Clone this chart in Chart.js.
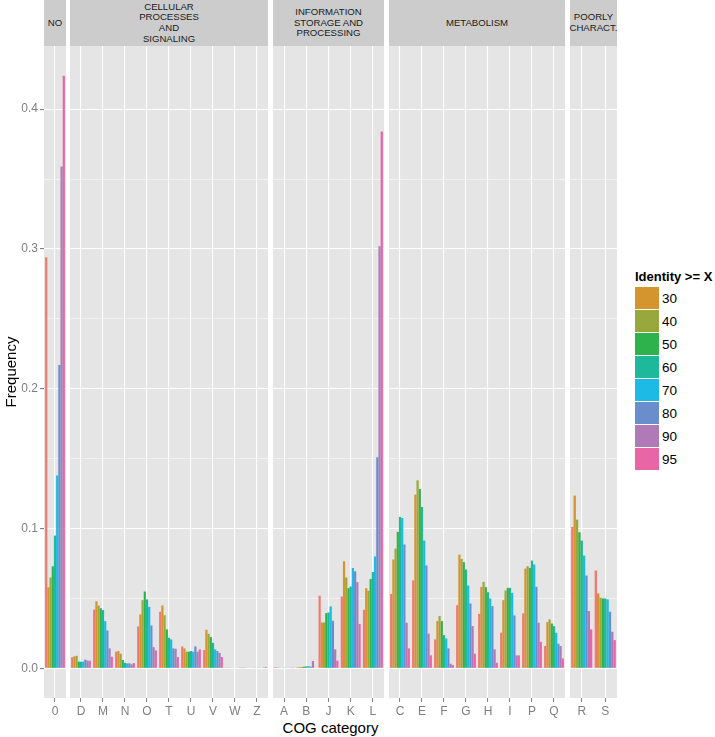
<!DOCTYPE html>
<html>
<head>
<meta charset="utf-8">
<script src="https://cdn.jsdelivr.net/npm/chart.js@4.4.1/dist/chart.umd.min.js"></script>
<style>
  body { margin: 0; background: #fff; font-family: 'Liberation Sans', Arial, sans-serif; }
  #wrap { position: relative; width: 715px; height: 737px; overflow: hidden; }
  canvas { position: absolute; top: 46px; }
  .strip { position: absolute; top: 0; height: 46px; background: #cccccc; color: #1a1a1a;
           font-size: 9.6px; line-height: 10.6px; display: flex; align-items: center;
           justify-content: center; text-align: center; white-space: pre-line; }
  #xtitle { position: absolute; top: 719px; left: 44px; width: 573px; text-align: center;
            font-size: 15px; color: #000; }
  #legend { position: absolute; left: 635px; top: 269px; font-size: 13.5px; color: #000; }
  #legend .ttl { font-weight: bold; font-size: 13px; height: 18px; white-space: nowrap; }
  #legend .row { display: flex; align-items: center; height: 23px; }
  #legend .key { width: 24px; height: 22px; margin-bottom: 1px; margin-right: 3px; }
</style>
</head>
<body>
<div id="wrap">
  <div id="xtitle">COG category</div>
  <div id="legend"></div>
</div>
<script>
const categories = ['0', 'D', 'M', 'N', 'O', 'T', 'U', 'V', 'W', 'Z', 'A', 'B', 'J', 'K', 'L',
                    'C', 'E', 'F', 'G', 'H', 'I', 'P', 'Q', 'R', 'S'];

const identity20 = [0.294, 0.008, 0.042, 0.012, 0.030, 0.0405, 0.0157, 0.0131, 0.0005, 0.0004, 0.0008, 0.0007, 0.052, 0.0514, 0.0419,
                    0.0533, 0.0629, 0.0207, 0.0452, 0.039, 0.0255, 0.0393, 0.016, 0.1012, 0.070];
const identity30 = [0.058, 0.0086, 0.048, 0.0124, 0.0386, 0.045, 0.0143, 0.0276, 0.0005, 0.0004, 0.0007, 0.0009, 0.0328, 0.0766, 0.0574,
                    0.0779, 0.1243, 0.0338, 0.0814, 0.0583, 0.0488, 0.0714, 0.0331, 0.1236, 0.0536];
const identity40 = [0.065, 0.009, 0.045, 0.0105, 0.0488, 0.038, 0.0119, 0.0248, 0.0004, 0.0004, 0.0005, 0.001, 0.0328, 0.065, 0.0555,
                    0.0857, 0.1345, 0.0374, 0.0783, 0.0619, 0.0557, 0.0731, 0.035, 0.1064, 0.0505];
const identity50 = [0.073, 0.0048, 0.043, 0.006, 0.055, 0.0279, 0.0119, 0.0224, 0.0004, 0.0003, 0.0004, 0.0012, 0.0395, 0.0574, 0.0639,
                    0.0976, 0.1283, 0.0338, 0.076, 0.0581, 0.0576, 0.0719, 0.0321, 0.0974, 0.050];
const identity60 = [0.095, 0.0048, 0.0417, 0.004, 0.0493, 0.0219, 0.0124, 0.0183, 0.0004, 0.0004, 0.0003, 0.0014, 0.040, 0.0586, 0.0689,
                    0.1083, 0.1155, 0.0238, 0.0707, 0.0545, 0.0576, 0.0771, 0.0302, 0.0914, 0.050];
const identity70 = [0.138, 0.0048, 0.0338, 0.0036, 0.044, 0.0207, 0.0119, 0.0136, 0.0004, 0.0005, 0.0003, 0.0016, 0.0443, 0.0718, 0.0801,
                    0.1076, 0.0914, 0.0214, 0.0593, 0.050, 0.054, 0.0743, 0.0255, 0.0807, 0.0493];
const identity80 = [0.217, 0.0062, 0.0271, 0.0036, 0.0307, 0.0143, 0.0157, 0.0124, 0.0003, 0.0004, 0.0004, 0.0012, 0.034, 0.0694, 0.151,
                    0.0886, 0.0736, 0.0143, 0.0464, 0.0445, 0.0379, 0.0583, 0.0176, 0.0664, 0.0405];
const identity90 = [0.359, 0.0055, 0.0143, 0.0029, 0.0152, 0.014, 0.0119, 0.011, 0.0002, 0.0006, 0.0005, 0.0053, 0.0136, 0.0617, 0.302,
                    0.0326, 0.0248, 0.0033, 0.0302, 0.0136, 0.0093, 0.0326, 0.016, 0.041, 0.0262];
const identity95 = [0.424, 0.0055, 0.0083, 0.0038, 0.0129, 0.0081, 0.0136, 0.0081, 0.0002, 0.001, 0.0002, 0.0003, 0.0055, 0.0318, 0.384,
                    0.0143, 0.0093, 0.0024, 0.0105, 0.004, 0.0093, 0.019, 0.0071, 0.0279, 0.0202];

const seriesNames = ['20', '30', '40', '50', '60', '70', '80', '90', '95'];
const seriesValues = [identity20, identity30, identity40, identity50, identity60, identity70, identity80, identity90, identity95];
const legendNames = ['30', '40', '50', '60', '70', '80', '90', '95'];

const majorTicks = [0, 0.1, 0.2, 0.3, 0.4];
const yTickLabels = ['0.0', '0.1', '0.2', '0.3', '0.4'];
const minorTicks = [0.05, 0.15, 0.25, 0.35];

const stripTitles = ['NO', 'CELLULAR\nPROCESSES\nAND\nSIGNALING', 'INFORMATION\nSTORAGE AND\nPROCESSING',
                     'METABOLISM', 'POORLY\nCHARACT.'];
const panelCounts = [1, 9, 5, 8, 2];

const colors = ['#ef7b6f', '#d4952e', '#98a83c', '#2eb24b', '#1eb99b', '#1dbae6', '#6a8ecc', '#b07ab6', '#e866a6'];
const panelLeft = [44, 70, 273, 389, 570];
const panelWidth = [22, 198, 111, 176, 47];
const yAxisW = 44;
const grey = '#7f7f7f';
const font = "'Liberation Sans', Arial, sans-serif";

const isMajor = v => majorTicks.some(m => Math.abs(m - v) < 1e-9);

// grey panel background like ggplot
const panelBg = {
    id: 'panelBg',
    beforeDraw(chart) {
        const a = chart.chartArea;
        chart.ctx.save();
        chart.ctx.fillStyle = '#e5e5e5';
        chart.ctx.fillRect(a.left, a.top, a.right - a.left, a.bottom - a.top);
        chart.ctx.restore();
    }
};

const noPad = s => { s.paddingTop = 0; s.paddingBottom = 0; s.paddingLeft = 0; s.paddingRight = 0; };

const wrap = document.getElementById('wrap');
let start = 0;
panelCounts.forEach((n, p) => {
    const first = p === 0;
    const labels = categories.slice(start, start + n);
    const from = start;
    start += n;

    const strip = document.createElement('div');
    strip.className = 'strip';
    strip.style.left = panelLeft[p] + 'px';
    strip.style.width = panelWidth[p] + 'px';
    strip.textContent = stripTitles[p];
    wrap.appendChild(strip);

    const canvas = document.createElement('canvas');
    const w = first ? panelLeft[p] + panelWidth[p] : panelWidth[p];
    canvas.width = w;
    canvas.height = 674;
    canvas.style.left = (first ? 0 : panelLeft[p]) + 'px';
    canvas.style.width = w + 'px';
    canvas.style.height = '674px';
    wrap.appendChild(canvas);

    new Chart(canvas, {
        type: 'bar',
        data: {
            labels: labels,
            datasets: seriesValues.map((vals, i) => ({
                label: seriesNames[i],
                data: vals.slice(from, from + n),
                backgroundColor: colors[i],
                borderWidth: 0,
                categoryPercentage: 0.9,
                barPercentage: 1.0
            }))
        },
        options: {
            responsive: false,
            animation: false,
            layout: { padding: 0 },
            plugins: { legend: { display: false }, tooltip: { enabled: false } },
            scales: {
                x: {
                    offset: true,
                    border: { display: false },
                    grid: { offset: false, color: '#ffffff', lineWidth: 1.1, tickColor: grey, tickLength: 4, tickWidth: 1 },
                    ticks: { color: grey, font: { family: font, size: 12 }, padding: 2, autoSkip: false, maxRotation: 0 },
                    afterFit: s => { s.height = 22; noPad(s); }
                },
                y: {
                    min: -0.0212,
                    max: 0.4452,
                    border: { display: false },
                    afterBuildTicks: s => { s.ticks = majorTicks.concat(minorTicks).sort((a, b) => a - b).map(v => ({ value: v })); },
                    grid: {
                        color: '#ffffff',
                        lineWidth: c => isMajor(c.tick.value) ? 1.1 : 0.5,
                        drawTicks: first,
                        tickLength: 4,
                        tickColor: c => isMajor(c.tick.value) ? grey : 'rgba(0,0,0,0)'
                    },
                    ticks: {
                        display: first,
                        color: grey,
                        padding: 2,
                        font: { family: font, size: 12 },
                        callback: v => {
                            const i = majorTicks.findIndex(m => Math.abs(m - v) < 1e-9);
                            return i >= 0 ? yTickLabels[i] : '';
                        }
                    },
                    title: { display: first, text: 'Frequency', color: '#000', font: { family: font, size: 15 }, padding: { top: 3, bottom: 0 } },
                    afterFit: s => { s.width = first ? yAxisW : 0; noPad(s); }
                }
            }
        },
        plugins: [panelBg]
    });
});

const legend = document.getElementById('legend');
const ttl = document.createElement('div');
ttl.className = 'ttl';
ttl.textContent = 'Identity >= X';
legend.appendChild(ttl);
legendNames.forEach((name, k) => {
    const row = document.createElement('div');
    row.className = 'row';
    const key = document.createElement('div');
    key.className = 'key';
    key.style.background = colors[k + 1];
    const txt = document.createElement('span');
    txt.textContent = name;
    row.appendChild(key);
    row.appendChild(txt);
    legend.appendChild(row);
});
</script>
</body>
</html>
